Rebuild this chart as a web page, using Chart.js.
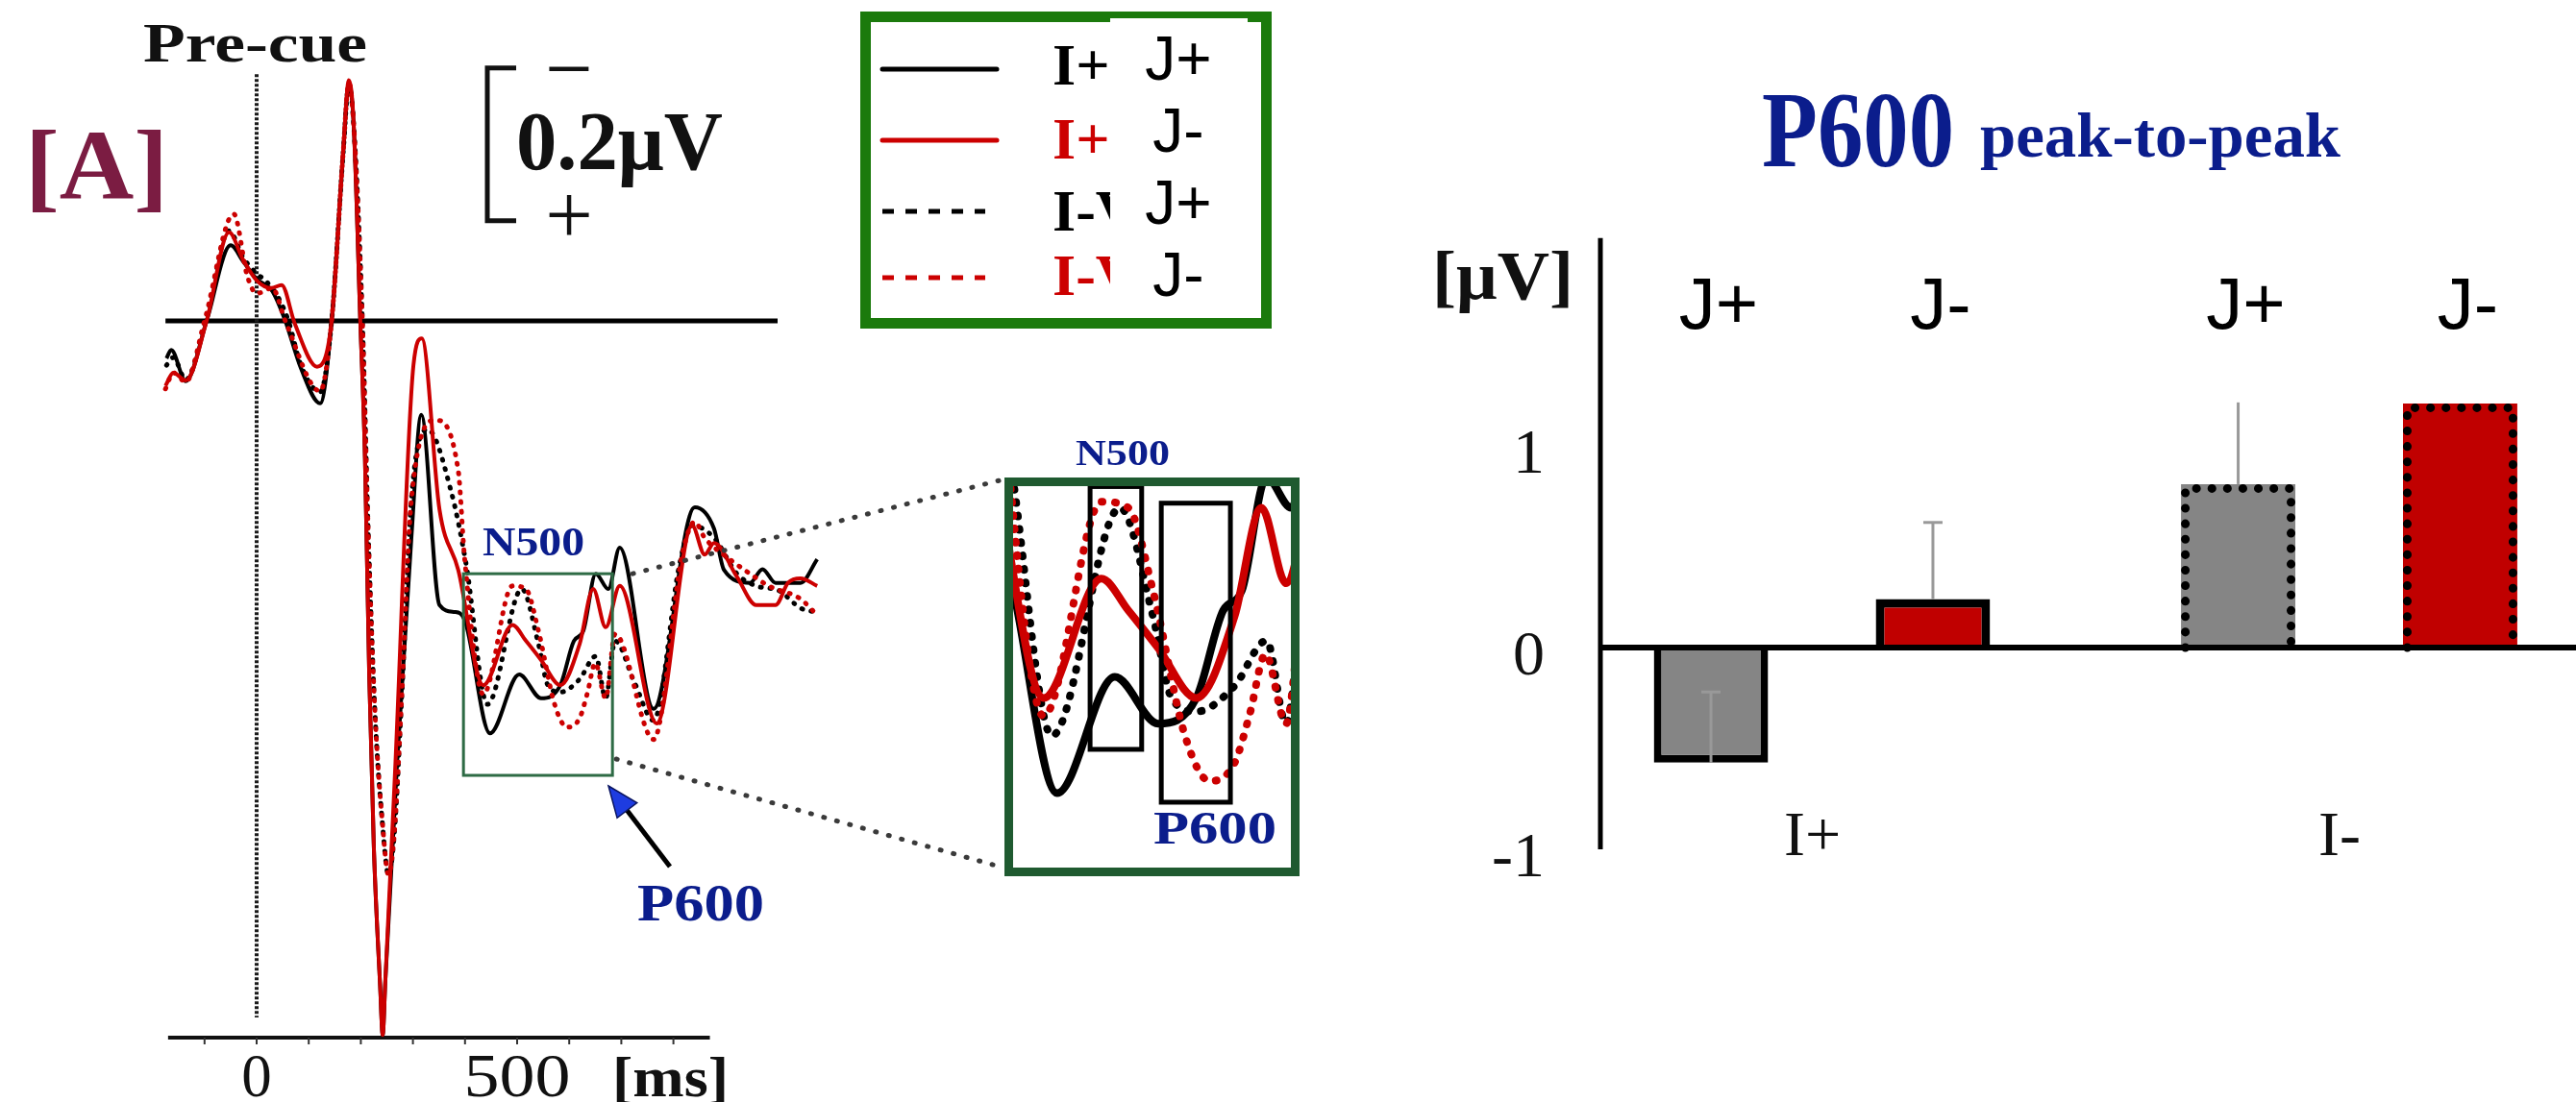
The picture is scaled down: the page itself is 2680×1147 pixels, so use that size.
<!DOCTYPE html>
<html>
<head>
<meta charset="utf-8">
<script src="https://cdn.jsdelivr.net/npm/chart.js@4.4.1/dist/chart.umd.min.js"></script>
<style>
  html, body { margin: 0; padding: 0; background: #fff; }
  body { width: 2680px; height: 1147px; overflow: hidden; position: relative; }
  canvas { position: absolute; }
</style>
</head>
<body>
<canvas id="erp" width="1400" height="1147" style="left:0;top:0;width:1400px;height:1147px"></canvas>
<canvas id="zoom" width="307" height="415" style="left:1045px;top:497px;width:307px;height:415px"></canvas>
<canvas id="bars" width="1360" height="1147" style="left:1400px;top:0;width:1360px;height:1147px"></canvas>
<script>
// ---------- ERP waveforms: time (ms) and amplitude (µV, negative plotted up) ----------
const T_IPJP = [-173, -164, -136, -96, -50, -25, 0, 30, 55, 85, 122, 144, 166, 177, 186, 199, 208, 216, 225, 237, 242, 247, 269, 297, 316, 351, 380, 399, 448, 504, 546, 583, 609, 627, 651, 675, 697, 762, 841, 878, 897, 947, 971, 996, 1044, 1076];
const V_IPJP = [0.049, 0.038, 0.079, 0, -0.099, -0.077, -0.055, -0.039, 0, 0.062, 0.108, 0, -0.219, -0.311, -0.26, 0, 0.18, 0.46, 0.69, 0.87, 0.935, 0.865, 0.586, 0.284, 0.123, 0.372, 0.381, 0.391, 0.540, 0.463, 0.494, 0.477, 0.419, 0.406, 0.331, 0.351, 0.297, 0.508, 0.244, 0.272, 0.326, 0.343, 0.325, 0.343, 0.343, 0.312];

const T_IPJM = [-175, -160, -136, -96, -53, -26, 0, 28, 48, 73, 116, 144, 166, 177, 186, 199, 208, 216, 225, 237, 242, 247, 266, 301, 317, 351, 387, 435, 491, 517, 546, 583, 620, 646, 670, 697, 768, 836, 860, 878, 922, 959, 996, 1020, 1044, 1076];
const V_IPJM = [0.085, 0.068, 0.078, 0, -0.116, -0.080, -0.053, -0.043, -0.047, 0.003, 0.060, 0, -0.222, -0.315, -0.262, 0, 0.18, 0.46, 0.69, 0.87, 0.935, 0.865, 0.586, 0.058, 0.023, 0.247, 0.326, 0.477, 0.398, 0.419, 0.444, 0.477, 0.423, 0.351, 0.401, 0.347, 0.527, 0.268, 0.306, 0.291, 0.335, 0.372, 0.372, 0.343, 0.337, 0.347];

const T_IMJP = [-173, -160, -136, -98, -53, -26, 0, 18, 42, 61, 85, 122, 144, 166, 177, 186, 203, 214, 227, 242, 253, 264, 279, 297, 328, 374, 402, 443, 509, 541, 559, 583, 620, 651, 670, 688, 725, 762, 812, 836, 878, 922, 959, 1002, 1044, 1070];
const V_IMJP = [0.058, 0.048, 0.077, 0, -0.118, -0.083, -0.062, -0.052, -0.030, 0, 0.058, 0.093, 0, -0.219, -0.309, -0.26, 0, 0.272, 0.511, 0.662, 0.725, 0.674, 0.486, 0.234, 0.142, 0.225, 0.318, 0.502, 0.351, 0.423, 0.477, 0.486, 0.469, 0.439, 0.494, 0.419, 0.473, 0.523, 0.318, 0.268, 0.284, 0.331, 0.347, 0.353, 0.376, 0.381];

const T_IMJM = [-175, -160, -136, -100, -44, -18, 0, 30, 55, 122, 144, 166, 177, 186, 203, 214, 227, 242, 253, 264, 279, 297, 343, 387, 399, 435, 491, 517, 541, 572, 596, 620, 635, 650, 670, 688, 762, 817, 841, 860, 910, 947, 983, 1044, 1070];
const V_IMJM = [0.089, 0.068, 0.080, 0, -0.140, -0.059, -0.036, -0.043, 0, 0.092, 0, -0.219, -0.311, -0.26, 0, 0.272, 0.511, 0.662, 0.725, 0.674, 0.486, 0.234, 0.130, 0.196, 0.309, 0.489, 0.347, 0.351, 0.406, 0.502, 0.532, 0.520, 0.487, 0.448, 0.494, 0.410, 0.548, 0.306, 0.263, 0.284, 0.313, 0.331, 0.347, 0.364, 0.381];

const LEGEND_I = ['I+V+', 'I+V-', 'I-V+', 'I-V-'];
const LEGEND_J = ['J+', 'J-', 'J+', 'J-'];
const X_TICK_LABELS = [0, 500];
const X_MINOR_TICKS = [-100, 0, 100, 200, 300, 400, 500, 600, 700, 800];
const SCALE_BAR_UV = 0.2;

// magnified window and the two measurement windows inside it
const ZOOM_MS = [397, 683];
const ZOOM_UV = [0.331, 0.595];
const N500_WIN_MS = [480, 530];
const N500_WIN_UV = [0.337, 0.511];
const P600_WIN_MS = [549, 616];
const P600_WIN_UV = [0.348, 0.546];

// ---------- P600 peak-to-peak amplitudes ----------
const GROUPS = ['I+', 'I-'];
const JP_VALUES = [-0.57, 0.81];
const JM_VALUES = [0.24, 1.21];
const JP_ERR = [0.35, 0.45];
const JM_ERR = [0.38, null];
const BAR_TICKS = [-1, 0, 1];

// ---------- helpers ----------
const SERIF = '"Liberation Serif", "Times New Roman", serif';
const SANS = '"Liberation Sans", Arial, sans-serif';
const RED = '#cc0000';
const NAVY = '#0b1d8c';

function pts(t, v) { return t.map((x, i) => ({ x: x, y: v[i] })); }

// draw text squeezed/stretched horizontally to a given width
function fitText(ctx, text, x, y, font, color, width, align) {
  ctx.save();
  ctx.font = font;
  ctx.fillStyle = color;
  ctx.textBaseline = 'alphabetic';
  ctx.textAlign = 'left';
  const w = ctx.measureText(text).width;
  const tw = width || w;
  const sx = tw / w;
  let left = x;
  if (align === 'center') left = x - tw / 2;
  else if (align === 'right') left = x - tw;
  ctx.translate(left, y);
  ctx.scale(sx, 1);
  ctx.fillText(text, 0, 0);
  ctx.restore();
}

function line(ctx, x1, y1, x2, y2, w, color, dash, cap) {
  ctx.save();
  ctx.beginPath();
  ctx.lineWidth = w;
  ctx.strokeStyle = color;
  ctx.setLineDash(dash || []);
  ctx.lineCap = cap || 'butt';
  ctx.moveTo(x1, y1);
  ctx.lineTo(x2, y2);
  ctx.stroke();
  ctx.restore();
}

function erpDatasets(solidW, dotW, dotGap) {
  const dotted = { borderDash: [1, dotGap], borderCapStyle: 'round', borderWidth: dotW };
  return [
    { label: 'I+J+', data: pts(T_IPJP, V_IPJP), borderColor: '#000', borderWidth: solidW, order: 2 },
    { label: 'I+J-', data: pts(T_IPJM, V_IPJM), borderColor: RED, borderWidth: solidW, order: 0 },
    Object.assign({ label: 'I-J+', data: pts(T_IMJP, V_IMJP), borderColor: '#000', order: 3 }, dotted),
    Object.assign({ label: 'I-J-', data: pts(T_IMJM, V_IMJM), borderColor: RED, order: 1 }, dotted)
  ];
}

const commonOpts = {
  responsive: false,
  animation: false,
  devicePixelRatio: 1,
  layout: { padding: 0 },
  plugins: { legend: { display: false }, tooltip: { enabled: false }, title: { display: false } },
  elements: { point: { radius: 0 }, line: { cubicInterpolationMode: 'monotone', fill: false } }
};

// ---------- left panel: waveforms with axes, scale bar, legend ----------
const erpDecor = {
  id: 'erpDecor',
  beforeDatasetsDraw(chart) {
    const { ctx } = chart;
    const x = chart.scales.x, y = chart.scales.y;
    // baseline
    line(ctx, x.getPixelForValue(-175), y.getPixelForValue(0), x.getPixelForValue(1000), y.getPixelForValue(0), 5, '#000');
    // stimulus onset
    line(ctx, x.getPixelForValue(0), y.getPixelForValue(-0.323), x.getPixelForValue(0), y.getPixelForValue(0.912), 4, '#1a1a1a', [3, 2]);
    // time axis
    const axisY = 1080;
    line(ctx, x.getPixelForValue(-170), axisY, x.getPixelForValue(870), axisY, 4, '#111');
    X_MINOR_TICKS.forEach(t => line(ctx, x.getPixelForValue(t), axisY, x.getPixelForValue(t), axisY + 7, 2, '#333'));
    X_TICK_LABELS.forEach(t => {
      const s = String(t);
      fitText(ctx, s, x.getPixelForValue(t), 1141, '63px ' + SERIF, '#111', s.length > 1 ? 111 : null, 'center');
    });
    fitText(ctx, '[ms]', 637, 1141, 'bold 60px ' + SERIF, '#111', 121, 'left');
  },
  afterDatasetsDraw(chart) {
    const { ctx } = chart;
    const x = chart.scales.x, y = chart.scales.y;
    // magnified window
    const bx1 = x.getPixelForValue(ZOOM_MS[0]), bx2 = x.getPixelForValue(ZOOM_MS[1]);
    const by1 = y.getPixelForValue(ZOOM_UV[0]), by2 = y.getPixelForValue(ZOOM_UV[1]);
    ctx.save();
    ctx.lineWidth = 3;
    ctx.strokeStyle = '#2e6b45';
    ctx.strokeRect(bx1, by1, bx2 - bx1, by2 - by1);
    ctx.restore();
    // connectors to the enlarged view
    line(ctx, bx2 + 21, by1, 1040, 500, 5, '#3a3a3a', [1, 13], 'round');
    line(ctx, bx2 + 4, by2 - 17, 1040, 902, 5, '#3a3a3a', [1, 13], 'round');
    // component labels
    fitText(ctx, 'N500', 502, 578, 'bold 42px ' + SERIF, NAVY, 106, 'left');
    fitText(ctx, 'P600', 663, 958, 'bold 54px ' + SERIF, NAVY, 132, 'left');
    fitText(ctx, 'N500', 1119, 484, 'bold 38px ' + SERIF, NAVY, 98, 'left');
    // arrow to the window
    const tail = [697, 902], tip = [633, 818];
    const dx = tip[0] - tail[0], dy = tip[1] - tail[1];
    const len = Math.hypot(dx, dy), ux = dx / len, uy = dy / len;
    const hb = [tip[0] - ux * 32, tip[1] - uy * 32];
    line(ctx, tail[0], tail[1], hb[0], hb[1], 5, '#000');
    ctx.save();
    ctx.beginPath();
    ctx.moveTo(tip[0], tip[1]);
    ctx.lineTo(hb[0] - uy * 13, hb[1] + ux * 13);
    ctx.lineTo(hb[0] + uy * 13, hb[1] - ux * 13);
    ctx.closePath();
    ctx.fillStyle = '#1e3ce0';
    ctx.fill();
    ctx.lineWidth = 1.5;
    ctx.strokeStyle = '#0a1560';
    ctx.stroke();
    ctx.restore();
    // panel letter and onset caption
    fitText(ctx, '[A]', 26, 207, 'bold 104px ' + SERIF, '#7b1c42', 149, 'left');
    fitText(ctx, 'Pre-cue', 149, 64, 'bold 56px ' + SERIF, '#111', 233, 'left');
    // amplitude scale bar
    const sTop = y.getPixelForValue(-0.331), sBot = y.getPixelForValue(-0.331 + SCALE_BAR_UV);
    ctx.save();
    ctx.beginPath();
    ctx.lineWidth = 5;
    ctx.strokeStyle = '#111';
    ctx.moveTo(537, sTop); ctx.lineTo(507, sTop); ctx.lineTo(507, sBot); ctx.lineTo(537, sBot);
    ctx.stroke();
    ctx.restore();
    fitText(ctx, '\u2212', 592, 101, '88px ' + SERIF, '#111', null, 'center');
    fitText(ctx, '+', 592, 253, '88px ' + SERIF, '#111', null, 'center');
    fitText(ctx, SCALE_BAR_UV + '\u03bcV', 537, 176, 'bold 86px ' + SERIF, '#111', 215, 'left');
  },
  afterDraw(chart) {
    const { ctx } = chart;
    // legend box
    ctx.save();
    ctx.lineWidth = 11;
    ctx.strokeStyle = '#1b7a0c';
    ctx.strokeRect(900.5, 17.5, 417, 319);
    ctx.restore();
    const rows = [72, 146, 220, 289];
    const cols = ['#000', RED, '#000', RED];
    rows.forEach((ry, i) => {
      if (i < 2) line(ctx, 918, ry, 1037, ry, 5, cols[i], null, 'round');
      else line(ctx, 918, ry, 1025, ry, 5, cols[i], [12, 12]);
    });
    const iBase = [88, 165, 240, 307];
    LEGEND_I.forEach((t, i) => fitText(ctx, t, 1095, iBase[i], 'bold 62px ' + SERIF, cols[i], null, 'left'));
    ctx.save();
    ctx.fillStyle = '#fff';
    ctx.fillRect(1155, 19, 143, 311);
    ctx.restore();
    const jBase = [83, 158, 233, 308];
    LEGEND_J.forEach((t, i) => fitText(ctx, t, 1226, jBase[i], '64px ' + SANS, '#000', null, 'center'));
  }
};

new Chart(document.getElementById('erp'), {
  type: 'line',
  data: { datasets: erpDatasets(4, 5, 9) },
  options: Object.assign({}, commonOpts, {
    scales: {
      x: { type: 'linear', display: false, min: -492.62, max: 2090.41 },
      y: { type: 'linear', display: false, reverse: true, min: -0.42013, max: 1.02264 }
    }
  }),
  plugins: [erpDecor]
});

// ---------- enlarged view of the N500/P600 window ----------
const zoomDecor = {
  id: 'zoomDecor',
  afterDatasetsDraw(chart) {
    const { ctx } = chart;
    const x = chart.scales.x, y = chart.scales.y;
    [[N500_WIN_MS, N500_WIN_UV], [P600_WIN_MS, P600_WIN_UV]].forEach(([ms, uv]) => {
      const x1 = x.getPixelForValue(ms[0]), x2 = x.getPixelForValue(ms[1]);
      const y1 = y.getPixelForValue(uv[0]), y2 = y.getPixelForValue(uv[1]);
      ctx.save();
      ctx.lineWidth = 5;
      ctx.strokeStyle = '#000';
      ctx.strokeRect(x1, y1, x2 - x1, y2 - y1);
      ctx.restore();
    });
    fitText(ctx, 'P600', 155, 381, 'bold 48px ' + SERIF, NAVY, 128, 'left');
    ctx.save();
    ctx.lineWidth = 9;
    ctx.strokeStyle = '#1f5a30';
    ctx.strokeRect(4.5, 4.5, chart.width - 9, chart.height - 9);
    ctx.restore();
  }
};

new Chart(document.getElementById('zoom'), {
  type: 'line',
  data: { datasets: erpDatasets(8, 8, 13) },
  options: Object.assign({}, commonOpts, {
    scales: {
      x: { type: 'linear', display: false, min: ZOOM_MS[0], max: ZOOM_MS[1] },
      y: { type: 'linear', display: false, reverse: true, min: ZOOM_UV[0], max: ZOOM_UV[1] }
    }
  }),
  plugins: [zoomDecor]
});

// ---------- right panel: bar chart ----------
const barDecor = {
  id: 'barDecor',
  afterDatasetsDraw(chart) {
    const { ctx } = chart;
    const x = chart.scales.x, y = chart.scales.y;
    const errs = [JP_ERR, JM_ERR];
    const vals = [JP_VALUES, JM_VALUES];
    // dotted outline for the I- bars
    chart.data.datasets.forEach((ds, di) => {
      const meta = chart.getDatasetMeta(di);
      const el = meta.data[1];
      const p = el.getProps(['x', 'y', 'base', 'width'], true);
      const l = p.x - p.width / 2 + 4.5, r = p.x + p.width / 2 - 4.5;
      ctx.save();
      ctx.beginPath();
      ctx.lineWidth = 9;
      ctx.lineCap = 'round';
      ctx.setLineDash([0.1, 16]);
      ctx.strokeStyle = '#000';
      ctx.moveTo(l, p.base); ctx.lineTo(l, p.y + 4.5); ctx.lineTo(r, p.y + 4.5); ctx.lineTo(r, p.base);
      ctx.stroke();
      ctx.restore();
    });
    // error bars
    chart.data.datasets.forEach((ds, di) => {
      const meta = chart.getDatasetMeta(di);
      meta.data.forEach((el, i) => {
        const e = errs[di][i];
        if (e === null) return;
        const y1 = y.getPixelForValue(vals[di][i]);
        const y2 = y.getPixelForValue(vals[di][i] + e);
        line(ctx, el.x, y1, el.x, y2, 3, '#999');
        line(ctx, el.x - 10, y2, el.x + 10, y2, 3, '#999');
      });
    });
    // label strip
    ctx.save();
    ctx.fillStyle = '#fff';
    ctx.fillRect(300, 217, 1060, y.getPixelForValue(1.215) - 217);
    ctx.restore();
    chart.data.datasets.forEach((ds, di) => {
      chart.getDatasetMeta(di).data.forEach(el => {
        fitText(ctx, ds.label, el.x + 8, 342, '76px ' + SANS, '#000', null, 'center');
      });
    });
    // axes
    const axisX = 265;
    const y0 = y.getPixelForValue(0);
    line(ctx, axisX, y0, chart.width, y0, 6, '#000');
    line(ctx, axisX, y.getPixelForValue(2.03), axisX, y.getPixelForValue(-1.0), 5, '#000');
    BAR_TICKS.forEach(v => fitText(ctx, String(v), 207, y.getPixelForValue(v) + 28, '66px ' + SERIF, '#111', null, 'right'));
    fitText(ctx, '[\u03bcV]', 90, 311, 'bold 72px ' + SERIF, '#111', 147, 'left');
    GROUPS.forEach((g, i) => fitText(ctx, g, x.getPixelForValue(i) - 10, 890, '66px ' + SERIF, '#111', null, 'center'));
    // title
    fitText(ctx, 'P600', 433, 173, 'bold 112px ' + SERIF, NAVY, 200, 'left');
    fitText(ctx, 'peak-to-peak', 660, 163, 'bold 66px ' + SERIF, NAVY, 375, 'left');
  }
};

new Chart(document.getElementById('bars'), {
  type: 'bar',
  data: {
    labels: GROUPS,
    datasets: [
      { label: 'J+', data: JP_VALUES, backgroundColor: '#858585', borderColor: '#000', borderWidth: [8, 0], borderSkipped: 'start' },
      { label: 'J-', data: JM_VALUES, backgroundColor: '#c00000', borderColor: '#000', borderWidth: [9, 0], borderSkipped: 'start' }
    ]
  },
  options: {
    responsive: false,
    animation: false,
    devicePixelRatio: 1,
    layout: { padding: { left: 221.25, right: 41.75, top: 0, bottom: 0 } },
    datasets: { bar: { categoryPercentage: 0.842, barPercentage: 0.515 } },
    plugins: { legend: { display: false }, tooltip: { enabled: false } },
    scales: {
      x: { display: false },
      y: { display: false, min: -2.2524, max: 3.2095 }
    }
  },
  plugins: [barDecor]
});
</script>
</body>
</html>
